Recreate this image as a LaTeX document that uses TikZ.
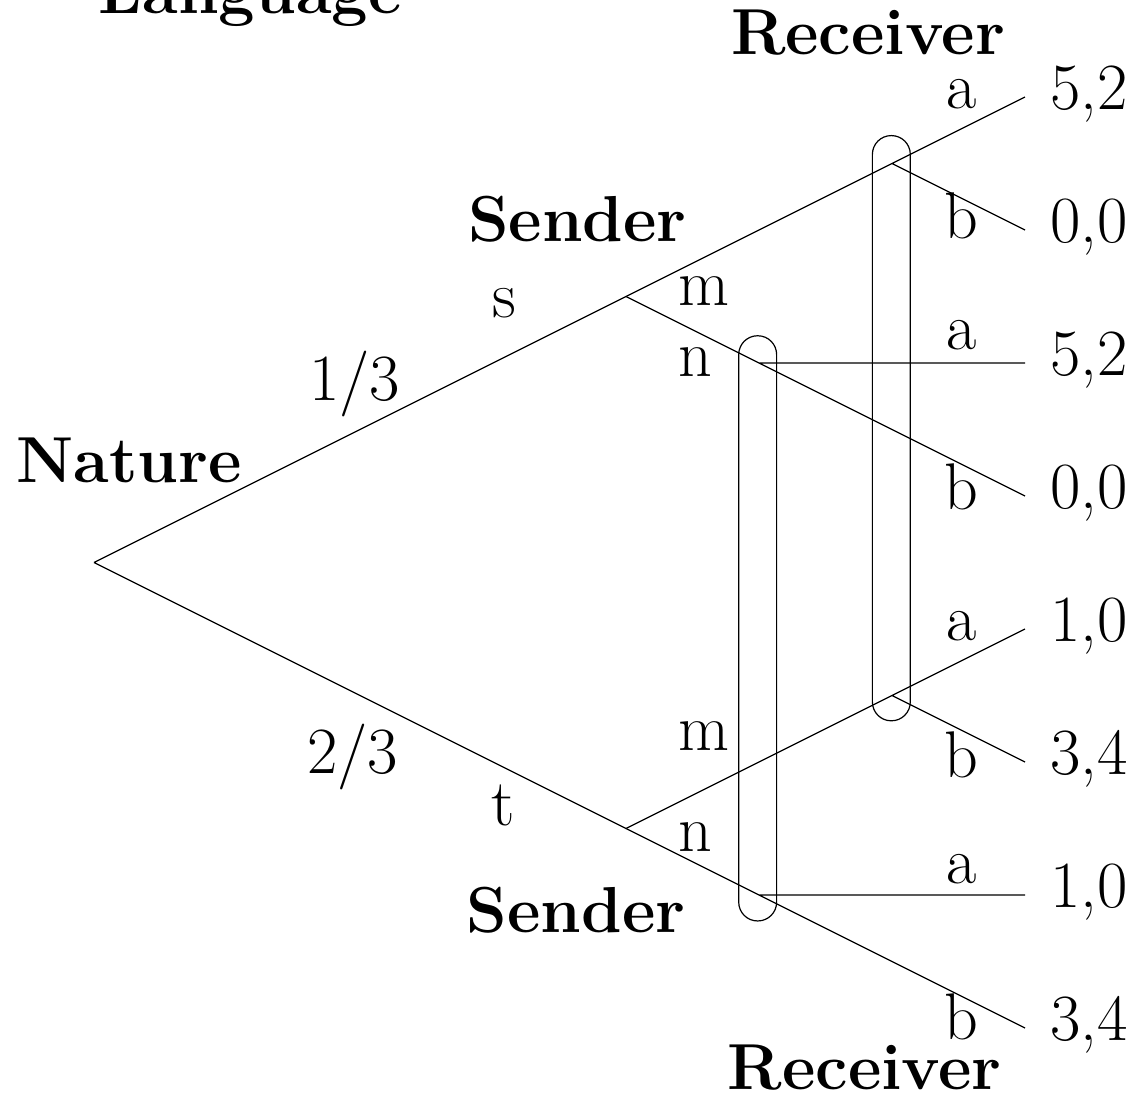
\documentclass[tikz,border=0pt]{standalone}
\begin{document}
\begin{tikzpicture}[x=33.25pt,y=33.25pt,
  edge/.style={line width=0.6pt},
  infoset/.style={draw, line width=0.6pt, rounded corners=9.4pt, minimum width=18.95pt, minimum height=292.6pt, inner sep=0pt},
  player/.style={font=\fontsize{32.5}{39}\selectfont\bfseries, inner sep=0pt, anchor=base},
  lbl/.style={font=\fontsize{33}{40}\selectfont, inner sep=0pt, anchor=base},
  pay/.style={font=\fontsize{33}{40}\selectfont, inner sep=0pt, anchor=base west}]
\useasboundingbox (-15.414,-15.038) rectangle (1.669,1.459);
\clip (-15.414,-15.038) rectangle (1.669,1.459);
% tree nodes
\coordinate (N) at (-14,-7);
\coordinate (S1) at (-6,-3);
\coordinate (S2) at (-6,-11);
\coordinate (R1) at (-2,-1);
\coordinate (R2) at (-4,-4);
\coordinate (R3) at (-2,-9);
\coordinate (R4) at (-4,-12);
\foreach \i in {1,...,8} \coordinate (T\i) at (0,{-2*(\i-1)});
% information sets
\node[infoset] (I1) at (-2.01,-4.98) {};
\node[infoset] (I2) at (-4.02,-7.99) {};
% edges
\draw[edge] (N) -- (S1) (N) -- (S2);
\draw[edge] (S1) -- (R1) -- (T1) (R1) -- (T2);
\draw[edge] (S1) -- (R2) -- (T4) (R2) -- (T3);
\draw[edge] (S2) -- (R3) -- (T5) (R3) -- (T6);
\draw[edge] (S2) -- (R4) -- (T8) (R4) -- (T7);
% player labels
\node[player] (lang) at (-11.65,1.263) {Language};
\node[player] (rtop) at (-2.36,0.647) {Receiver};
\node[player] (stop) at (-6.73,-2.176) {Sender};
\node[player] (nat) at (-13.47,-5.79) {Nature};
\node[player] (sbot) at (-6.75,-12.57) {Sender};
\node[player] (rbot) at (-2.41,-14.93) {Receiver};
% move labels
\node[lbl] (ls) at (-7.83,-3.32) {s};
\node[lbl] (lp1) at (-10.08,-4.57) {1/3};
\node[lbl] (lp2) at (-10.11,-10.17) {2/3};
\node[lbl] (lt) at (-7.85,-10.96) {t};
\node[lbl] (lm1) at (-4.83,-3.14) {m};
\node[lbl] (ln1) at (-4.96,-4.21) {n};
\node[lbl] (lm2) at (-4.83,-9.82) {m};
\node[lbl] (ln2) at (-4.96,-11.35) {n};
\node[lbl] (la1) at (-0.95,-0.165) {a};
\node[lbl] (lb1) at (-0.95,-2.12) {b};
\node[lbl] (la2) at (-0.95,-3.79) {a};
\node[lbl] (lb2) at (-0.95,-6.21) {b};
\node[lbl] (la3) at (-0.95,-8.18) {a};
\node[lbl] (lb3) at (-0.95,-10.23) {b};
\node[lbl] (la4) at (-0.95,-11.83) {a};
\node[lbl] (lb4) at (-0.95,-14.18) {b};
% payoffs
\node[pay] (p1) at (0.376,-0.19) {5,2};
\node[pay] (p2) at (0.376,-2.19) {0,0};
\node[pay] (p3) at (0.376,-4.19) {5,2};
\node[pay] (p4) at (0.376,-6.19) {0,0};
\node[pay] (p5) at (0.376,-8.19) {1,0};
\node[pay] (p6) at (0.376,-10.19) {3,4};
\node[pay] (p7) at (0.376,-12.19) {1,0};
\node[pay] (p8) at (0.376,-14.19) {3,4};
\end{tikzpicture}
\end{document}
